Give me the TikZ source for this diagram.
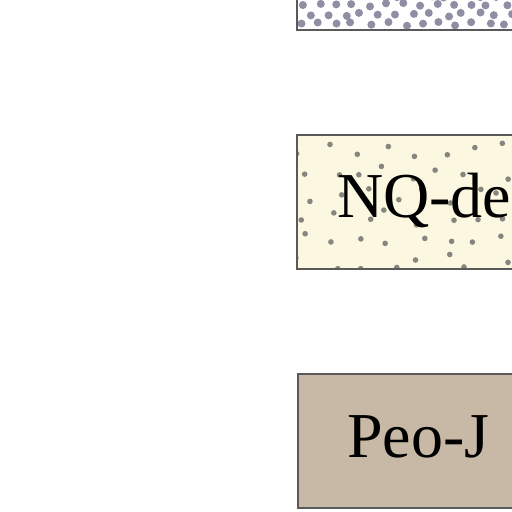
\documentclass[tikz,border=0pt]{standalone}
\usepackage{fontspec}
\setmainfont{Liberation Serif}
\definecolor{edge}{HTML}{5A5A5A}
\definecolor{creamfill}{HTML}{FBF7E1}
\definecolor{tanfill}{HTML}{C8B9A6}
\definecolor{dotblue}{HTML}{8E8EA4}
\definecolor{dotgray}{HTML}{86867E}
\tikzset{
  layerbox/.style={draw=edge, line width=1.6pt},
  layerlabel/.style={font=\fontsize{64}{64}\selectfont, text=black, inner sep=0pt, anchor=base west}
}
\begin{document}
\begin{tikzpicture}[x=1pt,y=1pt]
\useasboundingbox (0,0) rectangle (512,512);
\fill[white] (0,0) rectangle (512,512);
% top box (dotted, dense)
\path[fill=white] (297,482) rectangle (530,530);
\begin{scope}
\clip (297,482) rectangle (512,530);
\pgfmathsetseed{7}
\foreach \i in {0,...,12}{
  \foreach \j in {0,...,3}{
    \pgfmathsetmacro{\xx}{302+\i*17+rand*4+mod(\j,2)*8}
    \pgfmathsetmacro{\yy}{488+\j*9.5+rand*2}
    \fill[dotblue] (\xx pt,\yy pt) circle[radius=4pt];
  }
}
\end{scope}
\draw[layerbox] (297,540) -- (297,482) -- (520,482);
% middle box
\path[fill=creamfill] (297,243) rectangle (520,377);
\begin{scope}
\clip (297,243) rectangle (512,377);
\pgfmathsetseed{3}
\foreach \i in {0,...,7}{
  \foreach \j in {0,...,5}{
    \pgfmathsetmacro{\xx}{305+\i*28+rand*10}
    \pgfmathsetmacro{\yy}{251+\j*22+rand*8}
    \fill[dotgray] (\xx pt,\yy pt) circle[radius=2.8pt];
  }
}
\end{scope}
\draw[layerbox] (520,377) -- (297,377) -- (297,243) -- (520,243);
\node[layerlabel] (nq) at (337,294) {NQ-de};
% bottom box
\path[fill=tanfill] (298,4) rectangle (520,138);
\draw[layerbox] (520,138) -- (298,138) -- (298,4) -- (520,4);
\node[layerlabel] (peo) at (347,54) {Peo-J};
\end{tikzpicture}
\end{document}
